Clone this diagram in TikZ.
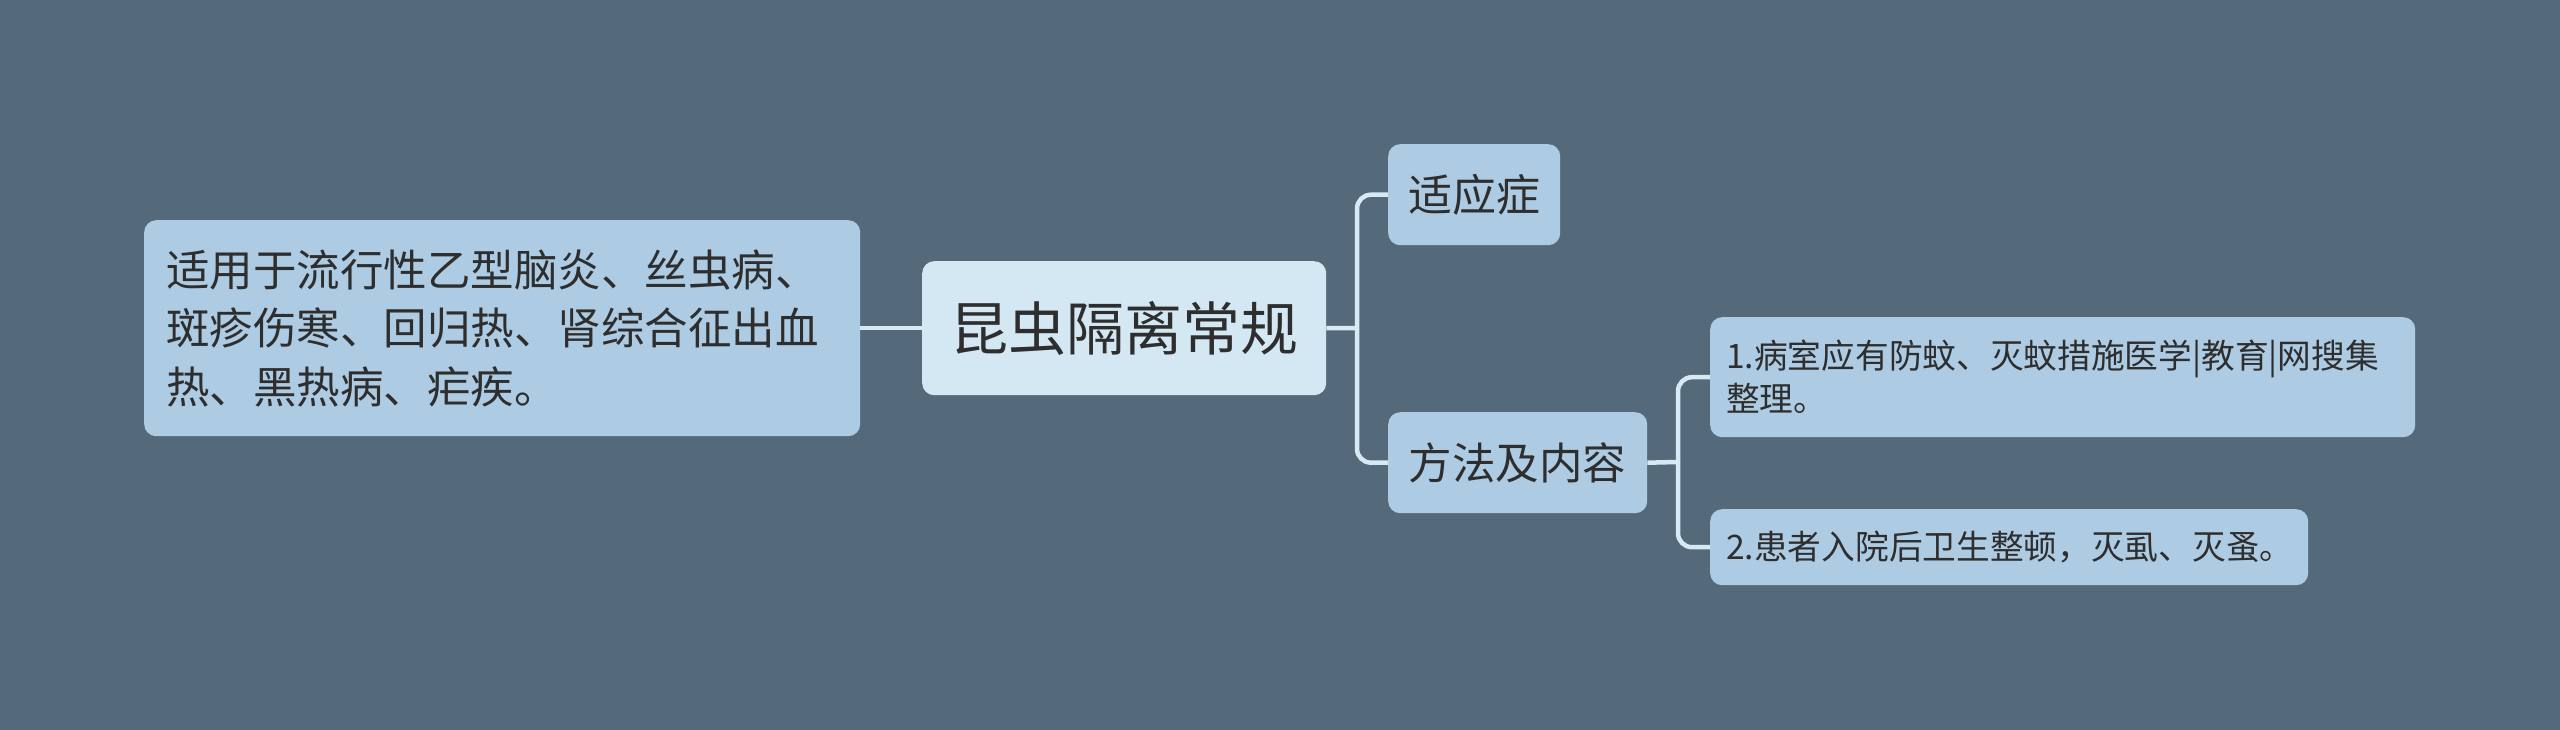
\documentclass[tikz,border=0pt]{standalone}
\usepackage{fontspec}
\setmainfont{Noto Sans CJK SC}
\definecolor{bg}{HTML}{546A7A}
\definecolor{boxc}{HTML}{ADCBE2}
\definecolor{rootc}{HTML}{D4E8F4}
\definecolor{linec}{HTML}{D6EAF6}
\definecolor{txt}{HTML}{2E2E2E}
\begin{document}
\begin{tikzpicture}[x=1pt,y=-1pt,
  boxbase/.style={draw=none,rounded corners=12pt,anchor=north west,text=txt},
  leafbox/.style={boxbase,fill=boxc},
  rootbox/.style={boxbase,fill=rootc},
  conn/.style={draw=linec,line width=4.5pt,rounded corners=14pt}]
\useasboundingbox (0,0) rectangle (2560,730);
\fill[bg] (0,0) rectangle (2560,730);
% nodes
\node[rootbox,minimum width=404pt,minimum height=134pt,inner sep=0pt,font=\fontsize{58}{68}\selectfont] (root) at (922,261) {昆虫隔离常规};
\node[leafbox,text width=672pt,minimum height=216pt,inner xsep=22pt,inner ysep=0pt,align=left,font=\fontsize{43.5}{58.5}\selectfont] (left) at (144,220) {适用于流行性乙型脑炎、丝虫病、\\斑疹伤寒、回归热、肾综合征出血\\热、黑热病、疟疾。};
\node[leafbox,minimum width=172pt,minimum height=101pt,inner sep=0pt,font=\fontsize{44}{52}\selectfont] (sy) at (1388,144) {适应症};
\node[leafbox,minimum width=259pt,minimum height=101pt,inner sep=0pt,font=\fontsize{43.5}{52}\selectfont] (ff) at (1388,412) {方法及内容};
\node[leafbox,text width=673pt,minimum height=120pt,inner xsep=16pt,inner ysep=0pt,align=left,font=\fontsize{33.7}{43}\selectfont] (b1) at (1710,317) {1.病室应有防蚊、灭蚊措施医学|教育|网搜集\\整理。};
\node[leafbox,text width=566pt,minimum height=76pt,inner xsep=16pt,inner ysep=0pt,align=left,font=\fontsize{33.7}{43}\selectfont] (b2) at (1710,509) {2.患者入院后卫生整顿，灭虱、灭蚤。};
% junctions
\coordinate (j1) at (1357,328);
\coordinate (j2) at (1678,462);
% connectors
\draw[conn] (left.east) -- (root.west);
\draw[conn] (root.east) -- (j1);
\draw[conn] (j1) |- (sy.west);
\draw[conn] (j1) |- (ff.west);
\draw[conn] (ff.east) -- (j2);
\draw[conn] (j2) |- (b1.west);
\draw[conn] (j2) |- (b2.west);
\end{tikzpicture}
\end{document}
